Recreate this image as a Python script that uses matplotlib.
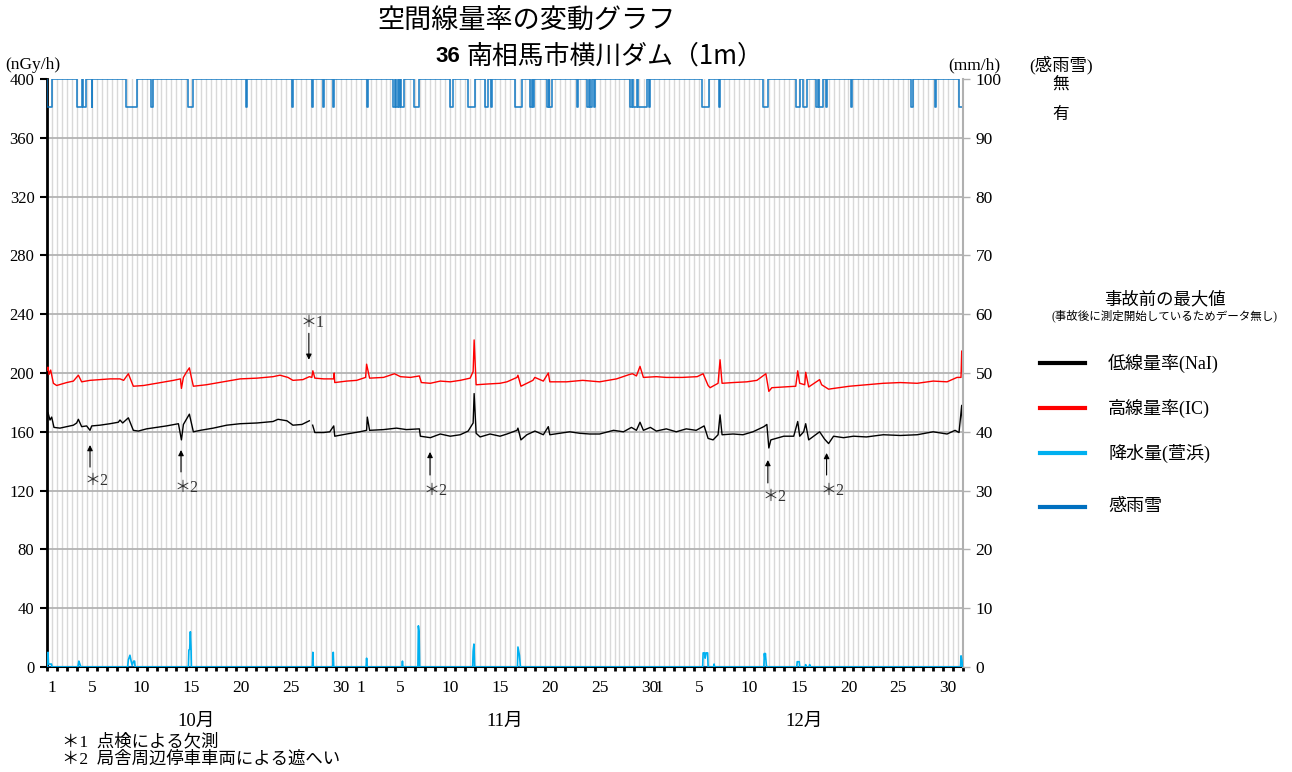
import numpy as np
import matplotlib
matplotlib.use("Agg")
import matplotlib.pyplot as plt
from matplotlib.lines import Line2D

# ---------------- data ----------------
# time in days since Oct 1 00:00 (Oct 1 .. Dec 31 = 92 days)
nai_t = [0.03, 0.1, 0.3, 0.47, 0.7, 1.3, 1.98, 2.65, 2.98, 3.15, 3.48, 3.98, 4.32, 4.49, 5.32, 6.33,
         7.16, 7.33, 7.6, 8.17, 8.67, 9.17, 10.0, 11.0, 12.0, 13.2, 13.5, 13.7, 14.0, 14.3, 14.5, 14.7,
         15.4, 16.7, 18.05, 19.4, 21.1, 22.7, 23.2, 24.1, 24.7, 25.6, 26.35, 26.5, 26.68, 26.9, 27.8,
         28.4, 28.8, 28.9, 30.1, 31.4, 32.1, 32.17, 32.4, 33.8, 35.1, 36.1, 37.4, 37.5, 38.5, 39.5,
         40.5, 41.5, 42.3, 42.8, 42.9, 43.1, 43.5, 44.5, 45.5,
         46.2, 47.2, 47.3, 47.6, 48.2, 49.0, 49.85, 50.35, 50.5, 51.5, 52.5, 53.5, 54.5, 55.5, 56.9,
         57.9, 58.7, 59.2, 59.56, 59.9, 60.6, 61.2, 62.2, 63.2, 64.2, 65.2, 66.0, 66.4, 66.9, 67.4,
         67.6, 67.8, 68.9, 69.9, 70.9, 72.0, 72.3, 72.5, 72.7, 74.0, 75.0, 75.4, 75.6, 76.0, 76.2,
         76.5, 77.6, 78.1, 78.5, 79.0, 80.0, 81.0, 82.3, 84.0, 85.7, 87.4, 89.0, 90.4, 91.2, 91.6,
         91.87, 92.0]
nai_v = [171, 173, 168, 170, 163, 162.5, 163.5, 164.5, 166, 168.5, 163.5, 164, 161, 164, 164.5, 165.5,
         166.5, 168, 166, 169.5, 161, 160.5, 162, 163, 164, 165.5, 154.5, 165, 168.5, 172, 166, 160,
         161, 162.5, 164.5, 165.5, 166, 167, 168.5, 167.5, 164.5, 165, 167.5, np.nan, 164.5, 159.5, 159.5,
         160, 164, 157, 158.5, 160, 161, 170, 161, 161.5, 162.5, 161.5, 162, 157, 156, 158.5,
         157, 158, 160.5, 166, 186, 159, 156.5, 158.5, 157,
         158.5, 161, 162.5, 154.5, 158, 160.5, 158, 163.5, 158, 159, 160, 159, 158.5, 158.5, 161,
         160, 163, 161, 166.5, 161, 163, 160.5, 162, 160, 162, 161, 164, 155.5, 154.5, 158,
         171.5, 158, 158.5, 158, 160, 163.5, 165, 149, 154.5, 157, 157, 167, 157, 160, 165.5,
         154.5, 160, 155, 152, 157, 156, 157, 156.5, 158, 157.5, 158, 160, 158.5, 161, 159.5,
         178, 158]

ic_t = [0.03, 0.1, 0.2, 0.37, 0.64, 0.97, 1.98, 2.65, 3.15, 3.48, 4.32, 5.32, 6.33, 7.33, 7.7, 8.17,
        8.67, 9.7, 11.0, 12.7, 13.4, 13.5, 13.7, 14.0, 14.3, 14.5, 14.7, 16.0, 17.7, 19.4, 21.1, 22.7,
        23.4, 24.2, 24.7, 25.7, 26.35, 26.6, 26.7, 26.9, 27.8, 28.8, 28.85, 28.9, 30.1, 31.1, 32.0,
        32.1, 32.4, 33.8, 34.9, 35.5, 36.5, 37.4, 37.6, 38.5, 39.5, 40.5, 41.5, 42.5, 42.8, 42.9,
        43.1, 44.2, 45.5,
        46.2, 47.2, 47.3, 47.6, 48.8, 49.0, 49.85, 50.35, 50.5, 52.2, 53.8, 55.5, 57.2, 58.5, 58.8,
        59.2, 59.56, 59.9, 61.2, 62.2, 63.8, 65.3, 65.9, 66.4, 66.6, 67.4, 67.6, 67.8, 68.9, 70.3,
        71.3, 72.2, 72.5, 72.8, 74.0, 75.2, 75.4, 75.6, 76.1, 76.2, 76.5, 77.6, 77.8, 78.5, 79.0,
        80.6, 82.3, 84.0, 85.7, 87.4, 89.0, 90.4, 91.4, 91.8, 91.87, 92.0]
ic_v = [202, 204, 199, 202, 193, 191.5, 193.5, 194.5, 198.5, 194, 195, 195.5, 196, 196, 195, 199.5,
        191, 191.5, 193, 195, 196, 189.5, 197, 200.5, 203.5, 197, 191, 192, 194, 196, 196.5, 197.5,
        198.5, 197, 195, 195.5, 197.5, 197, 201.5, 196.5, 196, 196, 200, 193.5, 194.5, 195, 197,
        206, 196.5, 197, 199.5, 197.5, 197, 198, 193.5, 193, 194.5, 194, 195, 196.5, 201, 222.5,
        192, 192.5, 193,
        194, 197, 198.5, 191, 195, 197, 194.5, 200, 194, 194, 195, 194, 196, 199, 199.5,
        198, 204.5, 197, 197.5, 197, 197, 197.5, 199.5, 191.5, 190, 193, 209, 193, 193.5, 194,
        195, 199.5, 187.5, 190, 190.5, 191, 201.5, 193, 192, 200.5, 190.5, 195.5, 192, 189, 189.5,
        191, 192, 193, 193.5, 193, 194.5, 194, 197, 197, 215, 194]

rain_t = [0.0, 0.1, 0.15, 0.45, 0.5, 3.1, 3.2, 3.3, 3.4, 8.1, 8.17, 8.33, 8.45, 8.55, 8.7, 8.8, 8.85,
          14.2, 14.25, 14.33, 14.4, 14.47, 14.5, 26.65, 26.7, 26.75, 28.7, 28.75, 28.8, 32.05, 32.1, 32.15,
          35.65, 35.7, 35.75, 37.25, 37.3, 37.37, 37.43, 42.75, 42.8, 42.88, 42.95, 47.25, 47.3, 47.45,
          47.55, 65.85, 65.9, 66.05, 66.1, 66.2, 66.35, 66.4, 66.95, 67.0, 67.05, 72.0, 72.05, 72.1,
          72.15, 72.25, 72.3, 75.3, 75.35, 75.55, 75.6, 76.15, 76.2, 76.25, 76.55, 76.6, 76.65,
          91.75, 91.8, 91.9, 91.95, 92.0]
rain_mm = [0, 2.5, 0.5, 0.5, 0, 0, 1.0, 0.5, 0, 0, 1.2, 2.0, 1.0, 0.3, 1.0, 1.0, 0,
           0, 2.9, 3.0, 6.0, 3.0, 0, 0, 2.5, 0, 0, 2.5, 0, 0, 1.5, 0,
           0, 1.0, 0, 0, 7.0, 6.0, 0, 0, 2.7, 3.9, 0, 0, 3.4, 2.0,
           0, 0, 2.4, 2.4, 1.5, 2.4, 2.4, 0, 0, 0.5, 0, 0, 2.3, 1.5,
           2.3, 0.3, 0, 0, 0.9, 0.9, 0, 0, 0.4, 0, 0, 0.4, 0,
           0, 1.9, 1.0, 0, 0]

# rain/snow detector "on" intervals (start, end) in days
sense_start = [0.03, 2.98, 3.65, 4.49, 7.93, 10.45, 14.2, 19.99, 24.6, 26.65, 27.75, 28.72, 32.1,
               34.8, 35.05, 35.35, 35.55, 36.86, 40.47, 42.3, 44.0, 44.56,
               47.0, 48.5, 48.84, 50.2, 50.45, 53.26, 54.26, 54.5, 54.9, 58.55, 58.85, 59.4, 60.45,
               65.8, 67.5, 71.9, 75.2, 75.95, 77.2, 77.5, 78.2, 80.8, 86.8, 89.2, 91.6]
sense_end = [0.47, 3.48, 3.89, 4.55, 9.0, 10.6, 14.7, 20.05, 24.67, 26.75, 27.85, 28.8, 32.2,
             35.0, 35.3, 35.5, 35.85, 37.4, 40.8, 43.0, 44.3, 44.66,
             47.67, 48.7, 48.94, 50.4, 50.7, 53.36, 54.45, 54.7, 55.0, 58.8, 59.3, 60.3, 60.6,
             66.5, 67.6, 72.4, 75.6, 76.3, 77.45, 77.97, 78.35, 80.9, 87.0, 89.3, 91.97]

month_names = ["10月", "11月", "12月"]
month_days = [31, 30, 31]
day_labels = [1, 5, 10, 15, 20, 25, 30]

# ---------------- style ----------------
W, H = 1292, 772
JP = ['Liberation Serif', 'Noto Sans CJK JP']
plt.rcParams['font.family'] = JP

fig = plt.figure(figsize=(W / 100, H / 100), dpi=100)
L, R, T, B = 47, 963, 79, 667
ax = fig.add_axes([L / W, 1 - B / H, (R - L) / W, (B - T) / H])
ax2 = ax.twinx()

def fx(x):
    return x / W

def fy(y):
    return 1 - y / H

ndays = sum(month_days)
ax.set_xlim(0, ndays)
ax.set_ylim(0, 400)
ax2.set_ylim(0, 100)

# grid
for t in np.arange(0.5, ndays, 0.5):
    ax.axvline(t, color='#d9d9d9', lw=1.0, zorder=0)
for v in range(40, 400, 40):
    ax.axhline(v, color='#b3b3b3', lw=1.3, zorder=1)

# rain/snow detector step line
sx, sy = [0.0], [400.0]
for s, e in zip(sense_start, sense_end):
    sx += [s, s, e, e]
    sy += [400.0, 381.0, 381.0, 400.0]
sx.append(ndays)
sy.append(400.0)
ax.plot(sx, sy, color='#0070C0', lw=1.2, alpha=0.85, zorder=3)

# dose rates
ax.plot(ic_t, ic_v, color='#FF0000', lw=1.0, zorder=4)
ax.plot(nai_t, nai_v, color='#000000', lw=1.0, zorder=4)

# precipitation on right axis
ax2.plot(rain_t, rain_mm, color='#00B0F0', lw=1.2, zorder=4)
ax2.axhline(0, color='#0070C0', lw=1.2)

# ticks
ax.set_yticks(range(0, 401, 40))
ax.tick_params(axis='y', labelsize=12, length=5, width=1.5, pad=4, direction='out')
ax2.set_yticks(range(0, 101, 10))
ax2.tick_params(axis='y', labelsize=12.5, length=5, width=1.0, color='#b0b0b0', pad=4)

pos, labs = [], []
offset = 0
for nd in month_days:
    for d in day_labels:
        if d <= nd:
            pos.append(offset + d - 0.5)
            labs.append(str(d))
    offset += nd
ax.set_xticks(pos)
ax.set_xticklabels(labs)
ax.set_xticks(np.arange(0, ndays + 1, 1), minor=True)
ax.tick_params(axis='x', which='major', length=0, labelsize=12.5, pad=9)
ax.tick_params(axis='x', which='minor', length=3, width=2, color='black')

for sp in ['top']:
    ax.spines[sp].set_visible(False)
    ax2.spines[sp].set_visible(False)
ax.spines['left'].set_linewidth(2)
ax.spines['bottom'].set_linewidth(1.5)
ax2.spines['left'].set_visible(False)
ax2.spines['right'].set_color('#b0b0b0')
ax2.spines['right'].set_linewidth(1.5)
ax2.spines['bottom'].set_visible(False)
ax.spines['right'].set_visible(False)

# month labels
offset = 0
for name, nd in zip(month_names, month_days):
    ax.text(offset + 15, -0.093, name, transform=ax.get_xaxis_transform(), ha='center', va='center',
            fontsize=13.5)
    offset += nd

# annotations
ann = [("＊1", 26.3, 227, 209, 26.7, 234),
       ("＊2", 4.32, 136, 151, 5.0, 126.5),
       ("＊2", 13.46, 132.7, 147.6, 14.06, 121.8),
       ("＊2", 38.47, 130.6, 146.3, 39.07, 119.7),
       ("＊2", 72.4, 125.2, 140.8, 73.1, 115.6),
       ("＊2", 78.3, 130.6, 145.6, 78.9, 119.7)]
for lab, xa, ytail, yhead, xt, yt in ann:
    ax.annotate('', xy=(xa, yhead), xytext=(xa, ytail),
                arrowprops=dict(arrowstyle='-|>', color='black', lw=0.8, mutation_scale=8,
                                shrinkA=0, shrinkB=0), zorder=6)
    ax.text(xt, yt, lab, ha='center', va='center', fontsize=11.5, color='#333333')

# titles
fig.text(fx(527), fy(21), "空間線量率の変動グラフ", ha='center', va='center', fontsize=19.5,
         family=['Noto Sans CJK JP'])
fig.text(fx(448), fy(56), "36", ha='center', va='center', fontsize=16, fontweight='bold',
         family=['Liberation Sans'])
fig.text(fx(466), fy(56), "南相馬市横川ダム（1m）", ha='left', va='center', fontsize=18.6,
         family=['Noto Sans CJK JP'])

# axis unit labels
fig.text(fx(5), fy(65), "(nGy/h)", ha='left', va='center', fontsize=12.5)
fig.text(fx(974), fy(65), "(mm/h)", ha='center', va='center', fontsize=12.5)
fig.text(fx(1061), fy(65), "(感雨雪)", ha='center', va='center', fontsize=12.5)
fig.text(fx(1061), fy(85), "無", ha='center', va='center', fontsize=12)
fig.text(fx(1061), fy(115), "有", ha='center', va='center', fontsize=12)

# legend block
fig.text(fx(1165), fy(300), "事故前の最大値", ha='center', va='center', fontsize=12.5)
fig.text(fx(1165), fy(316), "(事故後に測定開始しているためデータ無し)", ha='center', va='center',
         fontsize=8.3)
leg_items = [("低線量率(NaI)", '#000000', 363), ("高線量率(IC)", '#FF0000', 408),
             ("降水量(萱浜)", '#00B0F0', 453), ("感雨雪", '#0070C0', 507)]
for name, col, yy in leg_items:
    fig.add_artist(Line2D([fx(1040), fx(1085)], [fy(yy), fy(yy)], color=col, lw=3))
    fig.text(fx(1108), fy(yy), name, ha='left', va='center', fontsize=13)

# footnotes
fig.text(fx(62), fy(742), "＊1  点検による欠測", ha='left', va='center', fontsize=12.5)
fig.text(fx(62), fy(760), "＊2  局舎周辺停車車両による遮へい", ha='left', va='center', fontsize=12.5)

fig.savefig("out.png", dpi=100)
